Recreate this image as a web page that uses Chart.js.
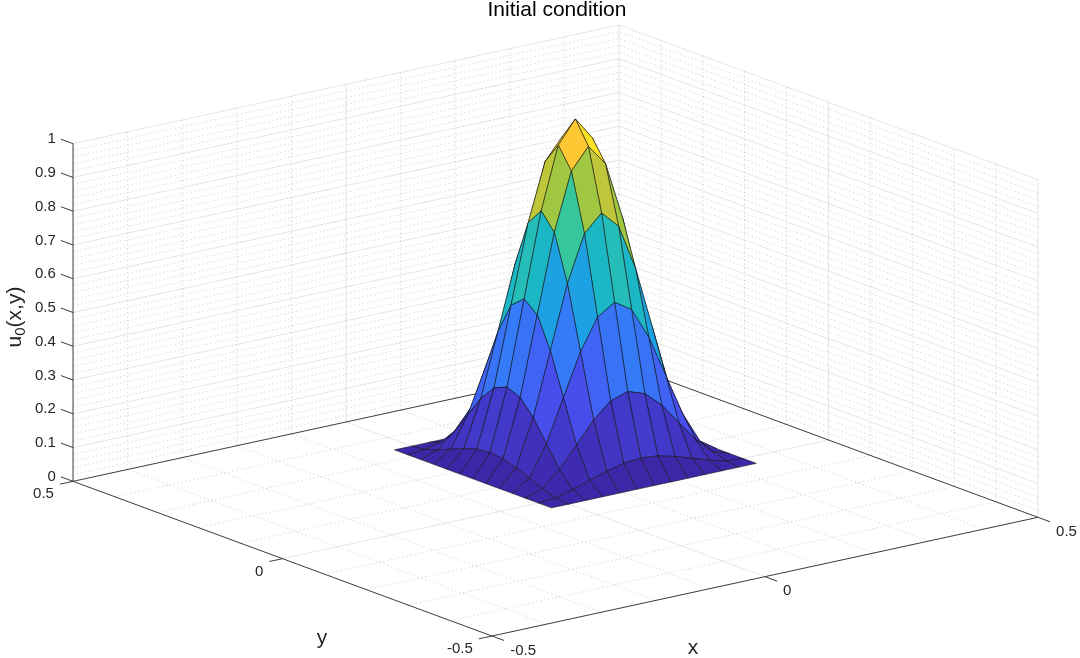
<!DOCTYPE html>
<html lang="en">
<head>
<meta charset="UTF-8">
<title>Initial condition</title>
<script src="https://cdn.jsdelivr.net/npm/chart.js@4.4.0/dist/chart.umd.min.js"></script>
<style>
  html, body { margin: 0; padding: 0; background: #ffffff; }
  #wrap { width: 1080px; height: 658px; }
</style>
</head>
<body>
<div id="wrap"><canvas id="surf" width="1080" height="658"></canvas></div>
<script>
// surface nodes (same spacing in x and y)
const xNodes = [-0.03125, 0, 0.03125, 0.0625, 0.09375, 0.125, 0.15625, 0.1875, 0.21875, 0.25, 0.28125, 0.3125, 0.34375];
const yNodes = [-0.03125, 0, 0.03125, 0.0625, 0.09375, 0.125, 0.15625, 0.1875, 0.21875, 0.25, 0.28125, 0.3125, 0.34375];

// u0(x,y), rows = y index, columns = x index
const u0 = [
  [0, 0,     0,     0,     0,     0,     0,     0,     0,     0,     0,     0,     0],
  [0, 0.004, 0.017, 0.034, 0.050, 0.063, 0.067, 0.063, 0.050, 0.034, 0.017, 0.004, 0],
  [0, 0.017, 0.063, 0.125, 0.188, 0.233, 0.250, 0.233, 0.188, 0.125, 0.063, 0.017, 0],
  [0, 0.034, 0.125, 0.250, 0.375, 0.467, 0.500, 0.467, 0.375, 0.250, 0.125, 0.034, 0],
  [0, 0.050, 0.188, 0.375, 0.563, 0.700, 0.750, 0.700, 0.563, 0.375, 0.188, 0.050, 0],
  [0, 0.063, 0.233, 0.467, 0.700, 0.871, 0.933, 0.871, 0.700, 0.467, 0.233, 0.063, 0],
  [0, 0.067, 0.250, 0.500, 0.750, 0.933, 1.000, 0.933, 0.750, 0.500, 0.250, 0.067, 0],
  [0, 0.063, 0.233, 0.467, 0.700, 0.871, 0.933, 0.871, 0.700, 0.467, 0.233, 0.063, 0],
  [0, 0.050, 0.188, 0.375, 0.563, 0.700, 0.750, 0.700, 0.563, 0.375, 0.188, 0.050, 0],
  [0, 0.034, 0.125, 0.250, 0.375, 0.467, 0.500, 0.467, 0.375, 0.250, 0.125, 0.034, 0],
  [0, 0.017, 0.063, 0.125, 0.188, 0.233, 0.250, 0.233, 0.188, 0.125, 0.063, 0.017, 0],
  [0, 0.004, 0.017, 0.034, 0.050, 0.063, 0.067, 0.063, 0.050, 0.034, 0.017, 0.004, 0],
  [0, 0,     0,     0,     0,     0,     0,     0,     0,     0,     0,     0,     0]
];

const xTicks = [-0.5, 0, 0.5];
const yTicks = [-0.5, 0, 0.5];
const zTicks = [0, 0.1, 0.2, 0.3, 0.4, 0.5, 0.6, 0.7, 0.8, 0.9, 1];
const xTickLabels = ['-0.5', '0', '0.5'];
const yTickLabels = ['-0.5', '0', '0.5'];
const zTickLabels = ['0', '0.1', '0.2', '0.3', '0.4', '0.5', '0.6', '0.7', '0.8', '0.9', '1'];
const xyMinor = [-0.4, -0.3, -0.2, -0.1, 0.1, 0.2, 0.3, 0.4];

const titleText = 'Initial condition';

// parula stops
const parulaStops = [
  [62, 38, 168], [72, 82, 244], [46, 135, 247], [18, 177, 214],
  [55, 200, 151], [171, 199, 57], [254, 195, 56], [249, 251, 21]
];
function parula(t) {
  t = Math.max(0, Math.min(1, t));
  const s = t * (parulaStops.length - 1);
  const k = Math.min(Math.floor(s), parulaStops.length - 2);
  const f = s - k;
  const a = parulaStops[k], b = parulaStops[k + 1];
  const c = a.map((v, n) => Math.round(v + (b[n] - v) * f));
  return `rgb(${c[0]},${c[1]},${c[2]})`;
}

// view az = -37.5, el = 30 (orthographic)
const az = -37.5 * Math.PI / 180;
const el = 30 * Math.PI / 180;
function proj(x, y, z) {
  const Z = z - 0.5;
  return {
    x: Math.cos(az) * x + Math.sin(az) * y,
    y: -Math.sin(el) * Math.sin(az) * x + Math.sin(el) * Math.cos(az) * y + Math.cos(el) * Z
  };
}
const camX = Math.cos(el) * Math.sin(az);
const camY = -Math.cos(el) * Math.cos(az);

// line helpers
function segs(list) {
  const out = [];
  list.forEach(s => {
    s.forEach(p => out.push(proj(p[0], p[1], p[2])));
    out.push({ x: NaN, y: NaN });
  });
  return out;
}
function lineSet(data, color, width, dash) {
  return {
    data: data, borderColor: color, borderWidth: width, borderDash: dash || [],
    pointRadius: 0, fill: false, tension: 0, spanGaps: false
  };
}

// grid lines
const majorSegs = [];
const minorSegs = [];
// floor
majorSegs.push([[0, -0.5, 0], [0, 0.5, 0]]);
majorSegs.push([[-0.5, 0, 0], [0.5, 0, 0]]);
xyMinor.forEach(v => {
  minorSegs.push([[v, -0.5, 0], [v, 0.5, 0]]);
  minorSegs.push([[-0.5, v, 0], [0.5, v, 0]]);
});
// back walls, vertical lines
xTicks.forEach(v => { if (v > -0.5) majorSegs.push([[v, 0.5, 0], [v, 0.5, 1]]); });
yTicks.forEach(v => { if (v < 0.5) majorSegs.push([[0.5, v, 0], [0.5, v, 1]]); });
xyMinor.forEach(v => {
  minorSegs.push([[v, 0.5, 0], [v, 0.5, 1]]);
  minorSegs.push([[0.5, v, 0], [0.5, v, 1]]);
});
// back walls, horizontal lines
zTicks.forEach(z => {
  if (z > 0) {
    majorSegs.push([[-0.5, 0.5, z], [0.5, 0.5, z], [0.5, -0.5, z]]);
  }
});
for (let k = 1; k < 50; k++) {
  if (k % 5 === 0) continue;
  const z = k * 0.02;
  minorSegs.push([[-0.5, 0.5, z], [0.5, 0.5, z], [0.5, -0.5, z]]);
}

// axis lines and ticks
const axisSegs = [
  [[-0.5, 0.5, 0], [-0.5, -0.5, 0], [0.5, -0.5, 0]],
  [[-0.5, 0.5, 0], [0.5, 0.5, 0], [0.5, -0.5, 0]],
  [[-0.5, 0.5, 0], [-0.5, 0.5, 1]]
];
const tLen = 0.029, tLenY = 0.024;
xTicks.forEach(v => axisSegs.push([[v, -0.5, 0], [v, -0.5 - tLen, 0]]));
yTicks.forEach(v => axisSegs.push([[-0.5, v, 0], [-0.5 - tLenY, v, 0]]));
zTicks.forEach(v => axisSegs.push([[-0.5, 0.5, v], [-0.5, 0.5 + tLen, v]]));

// surface faces, nearest first (Chart.js paints the first dataset last)
const faces = [];
for (let j = 0; j < yNodes.length - 1; j++) {
  for (let i = 0; i < xNodes.length - 1; i++) {
    const corners = [[i, j], [i + 1, j], [i + 1, j + 1], [i, j + 1], [i, j]];
    const pts = corners.map(c => proj(xNodes[c[0]], yNodes[c[1]], u0[c[1]][c[0]]));
    const xc = (xNodes[i] + xNodes[i + 1]) / 2;
    const yc = (yNodes[j] + yNodes[j + 1]) / 2;
    faces.push({ near: camX * xc + camY * yc, color: parula(u0[j][i]), pts: pts });
  }
}
faces.sort((a, b) => b.near - a.near);

const datasets = faces.map(f => ({
  data: f.pts, fill: 'shape', backgroundColor: f.color,
  borderColor: 'rgba(20,20,20,0.85)', borderWidth: 0.7, borderJoinStyle: 'round',
  pointRadius: 0, tension: 0
}));
datasets.push(lineSet(segs(axisSegs), '#262626', 0.9));
datasets.push(lineSet(segs(majorSegs), 'rgba(38,38,38,0.15)', 0.8));
datasets.push(lineSet(segs(minorSegs), 'rgba(38,38,38,0.22)', 0.8, [1.5, 2.5]));

const textPlugin = {
  id: 'axisText',
  afterDraw(chart) {
    const ctx = chart.ctx;
    const sx = chart.scales.x, sy = chart.scales.y;
    const pix = (x, y, z) => {
      const p = proj(x, y, z);
      return { x: sx.getPixelForValue(p.x), y: sy.getPixelForValue(p.y) };
    };
    ctx.save();
    ctx.fillStyle = '#262626';
    ctx.font = '15px "Liberation Sans", Arial, sans-serif';
    ctx.textBaseline = 'middle';

    ctx.textAlign = 'left';
    xTicks.forEach((v, n) => {
      const p = pix(v, -0.5 - tLen, 0);
      ctx.fillText(xTickLabels[n], p.x + 6, p.y + 10);
    });
    ctx.textAlign = 'right';
    yTicks.forEach((v, n) => {
      const p = pix(-0.5 - tLenY, v, 0);
      ctx.fillText(yTickLabels[n], p.x - 6, p.y + 10);
    });
    zTicks.forEach((v, n) => {
      const p = pix(-0.5, 0.5 + tLen, v);
      ctx.fillText(zTickLabels[n], p.x - 5, p.y);
    });

    // axis labels
    ctx.textAlign = 'center';
    ctx.font = '21px "Liberation Sans", Arial, sans-serif';
    ctx.fillText('x', 693, 648);
    ctx.fillText('y', 322, 638);

    // u_0(x,y), rotated
    ctx.save();
    ctx.translate(14, 317);
    ctx.rotate(-Math.PI / 2);
    const big = '21px "Liberation Sans", Arial, sans-serif';
    const small = '15px "Liberation Sans", Arial, sans-serif';
    ctx.font = big; const w1 = ctx.measureText('u').width; const w3 = ctx.measureText('(x,y)').width;
    ctx.font = small; const w2 = ctx.measureText('0').width;
    let x0 = -(w1 + w2 + w3) / 2;
    ctx.textAlign = 'left';
    ctx.textBaseline = 'alphabetic';
    ctx.font = big; ctx.fillText('u', x0, 7);
    ctx.font = small; ctx.fillText('0', x0 + w1, 11);
    ctx.font = big; ctx.fillText('(x,y)', x0 + w1 + w2, 7);
    ctx.restore();

    // title
    ctx.fillStyle = '#000000';
    ctx.textAlign = 'center';
    ctx.textBaseline = 'middle';
    ctx.font = '21px "Liberation Sans", Arial, sans-serif';
    ctx.fillText(titleText, 557, 10);
    ctx.restore();
  }
};

new Chart(document.getElementById('surf'), {
  type: 'line',
  data: { datasets: datasets },
  options: {
    responsive: false,
    animation: false,
    events: [],
    layout: { padding: 0 },
    plugins: { legend: { display: false }, tooltip: { enabled: false } },
    scales: {
      x: { type: 'linear', display: false, min: -0.80718, max: 0.76214 },
      y: { type: 'linear', display: false, min: -0.83996, max: 0.84765 }
    }
  },
  plugins: [textPlugin]
});
</script>
</body>
</html>
